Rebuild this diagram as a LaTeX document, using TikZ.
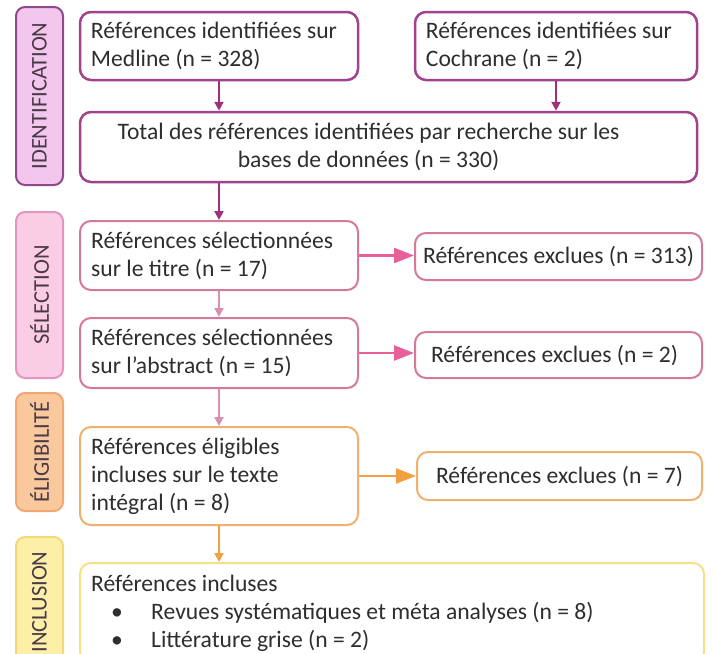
\documentclass[tikz,border=0pt]{standalone}
\usepackage{fontspec}
\setmainfont{Carlito}
\usetikzlibrary{arrows.meta}
\definecolor{txt}{HTML}{2E2E2E}
\definecolor{lbltxt}{HTML}{4A3A48}
\definecolor{idbord}{HTML}{A0428E}
\definecolor{idlfill}{HTML}{F3C6EE}
\definecolor{idlbord}{HTML}{8E4A88}
\definecolor{idarr}{HTML}{A0307A}
\definecolor{selbord}{HTML}{D4799C}
\definecolor{sellfill}{HTML}{FBCDE4}
\definecolor{sellbord}{HTML}{E394BF}
\definecolor{selarr}{HTML}{E8609A}
\definecolor{selarrb}{HTML}{D890B0}
\definecolor{elbord}{HTML}{F0B070}
\definecolor{ellfill}{HTML}{F9C89C}
\definecolor{ellbord}{HTML}{F0A870}
\definecolor{elarr}{HTML}{F0A040}
\definecolor{inbord}{HTML}{F6E084}
\definecolor{inlfill}{HTML}{FCF0A8}
\definecolor{inlbord}{HTML}{F2D878}
\begin{document}
\begin{tikzpicture}[x=1pt,y=-1pt,
  every node/.style={font=\fontsize{23.6}{28}\selectfont, text=txt},
  box/.style={draw, rounded corners=11pt, line width=2pt, fill=white, inner sep=0pt},
  lbl/.style={draw, rounded corners=9pt, line width=2pt, minimum width=47pt, inner sep=0pt},
  lbltext/.style={rotate=90, text=lbltxt, font=\fontsize{22.5}{26}\selectfont},
  ltxt/.style={align=left, inner sep=0pt, anchor=west},
  varr/.style={line width=2.5pt, -{Triangle[width=9pt,length=9pt]}},
  harr/.style={line width=2.5pt, -{Triangle[width=15pt,length=20pt]}}
]
\useasboundingbox (0,0) rectangle (714,653);
\clip (0,0) rectangle (714,653);
% side labels
\node[lbl, draw=idlbord, fill=idlfill, minimum height=178pt] (lid) at (39.5,96) {};
\node[lbltext] (lidt) at (lid.center) {IDENTIFICATION};
\node[lbl, draw=sellbord, fill=sellfill, minimum height=166pt] (lsel) at (39.5,295) {};
\node[lbltext] (lselt) at (lsel.center) {SÉLECTION};
\node[lbl, draw=ellbord, fill=ellfill, minimum height=118pt] (lel) at (39.5,452) {};
\node[lbltext] (lelt) at (lel.center) {ÉLIGIBILITÉ};
\node[lbl, draw=inlbord, fill=inlfill, minimum height=130pt] (lin) at (39.5,602) {};
\node[lbltext] (lint) at (lin.center) {INCLUSION};
% identification
\node[box, draw=idbord, line width=2.5pt, minimum width=278pt, minimum height=68pt] (med) at (219,46) {};
\node[ltxt] (medt) at ([xshift=12pt]med.west) {Références identifiées sur\\Medline (n = 328)};
\node[box, draw=idbord, line width=2.5pt, minimum width=282pt, minimum height=68pt] (coc) at (556,46) {};
\node[ltxt] (coct) at ([xshift=12pt]coc.west) {Références identifiées sur\\Cochrane (n = 2)};
\node[box, draw=idbord, line width=2.5pt, minimum width=617pt, minimum height=70pt] (tot) at (388.5,147) {};
\node[align=center, inner sep=0pt] (tott) at ([xshift=-20pt]tot.center) {Total des références identifiées par recherche sur les\\bases de données (n = 330)};
% selection
\node[box, draw=selbord, minimum width=278pt, minimum height=69pt] (s1) at (219,255.5) {};
\node[ltxt] (s1t) at ([xshift=12pt]s1.west) {Références sélectionnées\\sur le titre (n = 17)};
\node[box, draw=selbord, minimum width=287pt, minimum height=47pt] (e1) at (558.5,256.5) {};
\node[inner sep=0pt] (e1t) at (e1.center) {Références exclues (n = 313)};
\node[box, draw=selbord, minimum width=278pt, minimum height=70pt] (s2) at (219,353) {};
\node[ltxt] (s2t) at ([xshift=12pt]s2.west) {Références sélectionnées\\sur l’abstract (n = 15)};
\node[box, draw=selbord, minimum width=287pt, minimum height=46pt] (e2) at (558.5,355) {};
\node[inner sep=0pt] (e2t) at ([xshift=-4pt]e2.center) {Références exclues (n = 2)};
% eligibility
\node[box, draw=elbord, minimum width=278pt, minimum height=98pt] (el) at (219,476) {};
\node[ltxt] (elt) at ([xshift=12pt]el.west) {Références éligibles\\incluses sur le texte\\intégral (n = 8)};
\node[box, draw=elbord, minimum width=285pt, minimum height=48pt] (e3) at (559.5,476) {};
\node[inner sep=0pt] (e3t) at (e3.center) {Références exclues (n = 7)};
% inclusion
\node[box, draw=inbord, minimum width=624pt, minimum height=100pt] (inc) at (392,613) {};
\node[ltxt] (inct) at ([xshift=12pt]inc.west) {Références incluses\\\hspace*{20pt}\makebox[40pt][l]{\textbullet}Revues systématiques et méta analyses (n = 8)\\\hspace*{20pt}\makebox[40pt][l]{\textbullet}Littérature grise (n = 2)};
% arrows
\draw[varr, idarr] (med.south) -- (tot.north -| med.south);
\draw[varr, idarr] (coc.south) -- (tot.north -| coc.south);
\draw[varr, idarr] (tot.south -| med.south) -- (s1.north);
\draw[harr, selarr] (s1.east) -- (e1.west |- s1.east);
\draw[varr, selarrb, line width=2pt] (s1.south) -- (s2.north);
\draw[harr, selarr] (s2.east) -- (e2.west |- s2.east);
\draw[varr, selarrb] (s2.south) -- (el.north);
\draw[harr, elarr] (el.east) -- (e3.west |- el.east);
\draw[varr, elarr, line width=2pt] (el.south) -- (inc.north -| el.south);
\end{tikzpicture}
\end{document}
